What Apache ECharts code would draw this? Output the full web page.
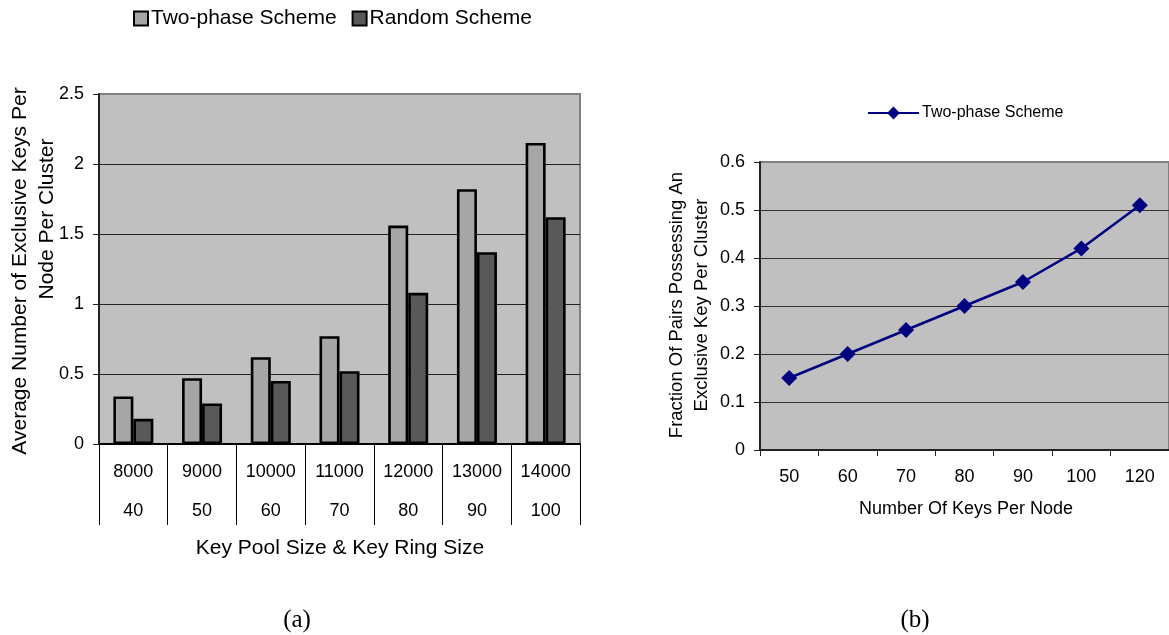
<!DOCTYPE html>
<html>
<head>
<meta charset="utf-8">
<script src="https://cdn.jsdelivr.net/npm/echarts@6/dist/echarts.min.js"></script>
<style>
  html, body { margin: 0; padding: 0; background: #fff; }
  .pane { position: absolute; left: 0; top: 0; width: 1169px; height: 635px; }
</style>
</head>
<body>
<div id="chartA" class="pane"></div>
<div id="chartB" class="pane"></div>
<script>
// (a) exclusive keys per node per cluster, by key pool / key ring size
const poolSizes = ['8000', '9000', '10000', '11000', '12000', '13000', '14000'];
const ringSizes = ['40', '50', '60', '70', '80', '90', '100'];
const twoPhaseKeys = [0.34, 0.47, 0.62, 0.77, 1.56, 1.82, 2.15];
const randomKeys = [0.18, 0.29, 0.45, 0.52, 1.08, 1.37, 1.62];
const yTicksA = { min: 0, max: 2.5, step: 0.5 };

// (b) fraction of pairs possessing an exclusive key, by keys per node
const keysPerNode = ['50', '60', '70', '80', '90', '100', '120'];
const pairFraction = [0.15, 0.20, 0.25, 0.30, 0.35, 0.42, 0.51];
const yTicksB = { min: 0, max: 0.6, step: 0.1 };

const SANS = '"Liberation Sans", Arial, Helvetica, sans-serif';
const SERIF = '"Liberation Serif", "DejaVu Serif", serif';

function vText(text, x, y, size, rot) {
  return {
    type: 'text', x: x, y: y, rotation: rot || 0,
    style: {
      text: text, fill: '#000', font: size + 'px ' + SANS,
      textAlign: 'center', textVerticalAlign: 'middle'
    }
  };
}

const chartA = echarts.init(document.getElementById('chartA'), null, { renderer: 'canvas' });
chartA.setOption({
  animation: false,
  backgroundColor: 'transparent',
  legend: {
    left: 133, top: 8, padding: 0, icon: 'rect',
    itemWidth: 14, itemHeight: 14, itemGap: 15,
    textStyle: { fontFamily: SANS, fontSize: 21, color: '#000', padding: [0, 0, 0, -2] },
    itemStyle: { borderColor: '#000', borderWidth: 2 },
    data: ['Two-phase Scheme', 'Random Scheme']
  },
  grid: {
    left: 99, top: 94, width: 481, height: 350,
    show: true, backgroundColor: '#c0c0c0', borderColor: '#808080', borderWidth: 2
  },
  xAxis: {
    type: 'category', data: poolSizes, boundaryGap: true,
    axisLine: { lineStyle: { color: '#000', width: 2 } },
    axisTick: { show: true, interval: 0, length: 81, lineStyle: { color: '#000', width: 1 } },
    axisLabel: {
      interval: 0, margin: 9, fontFamily: SANS, fontSize: 18, color: '#000', lineHeight: 39,
      formatter: (v, i) => poolSizes[i] + '\n' + ringSizes[i]
    },
    splitLine: { show: false }
  },
  yAxis: {
    type: 'value', min: yTicksA.min, max: yTicksA.max, interval: yTicksA.step,
    axisLine: { show: true, lineStyle: { color: '#222', width: 2 } },
    axisTick: { show: true, length: 6, lineStyle: { color: '#222' } },
    axisLabel: { margin: 15, fontFamily: SANS, fontSize: 18, color: '#000' },
    splitLine: { show: true, showMaxLine: false, lineStyle: { color: '#222', width: 1 } }
  },
  series: [
    {
      name: 'Two-phase Scheme', type: 'bar', data: twoPhaseKeys,
      barWidth: 20, barGap: '0%',
      itemStyle: { color: '#a6a6a6', borderColor: '#000', borderWidth: 2.6 }
    },
    {
      name: 'Random Scheme', type: 'bar', data: randomKeys,
      barWidth: 20, barGap: '0%',
      itemStyle: { color: '#595959', borderColor: '#000', borderWidth: 2.6 }
    }
  ],
  graphic: [
    vText('Average Number of Exclusive Keys Per', 20, 271, 21, Math.PI / 2),
    vText('Node Per Cluster', 47, 219, 21, Math.PI / 2),
    vText('Key Pool Size & Key Ring Size', 340, 548, 21),
    {
      type: 'text', x: 297, y: 620,
      style: { text: '(a)', fill: '#000', font: '25px ' + SERIF, textAlign: 'center', textVerticalAlign: 'middle' }
    }
  ]
});

const chartB = echarts.init(document.getElementById('chartB'), null, { renderer: 'canvas' });
chartB.setOption({
  animation: false,
  backgroundColor: 'transparent',
  legend: {
    left: 867, top: 105, padding: 0,
    itemWidth: 51, itemHeight: 16,
    textStyle: { fontFamily: SANS, fontSize: 16, color: '#000', padding: [0, 0, 0, -2] },
    data: ['Two-phase Scheme']
  },
  grid: {
    left: 760, top: 162, width: 413, height: 288,
    show: true, backgroundColor: '#c0c0c0', borderColor: '#808080', borderWidth: 2
  },
  xAxis: {
    type: 'category', data: keysPerNode, boundaryGap: true,
    axisLine: { lineStyle: { color: '#222', width: 2 } },
    axisTick: { show: true, interval: 0, length: 6, lineStyle: { color: '#222' } },
    axisLabel: { interval: 0, margin: 18, fontFamily: SANS, fontSize: 18, color: '#000' },
    splitLine: { show: false }
  },
  yAxis: {
    type: 'value', min: yTicksB.min, max: yTicksB.max, interval: yTicksB.step,
    axisLine: { show: true, lineStyle: { color: '#222', width: 2 } },
    axisTick: { show: true, length: 6, lineStyle: { color: '#222' } },
    axisLabel: { margin: 15, fontFamily: SANS, fontSize: 18, color: '#000' },
    splitLine: { show: true, showMaxLine: false, lineStyle: { color: '#333', width: 1 } }
  },
  series: [
    {
      name: 'Two-phase Scheme', type: 'line', data: pairFraction,
      symbol: 'diamond', symbolSize: 16,
      lineStyle: { color: '#000080', width: 2.5 },
      itemStyle: { color: '#000080' }
    }
  ],
  graphic: [
    vText('Fraction Of Pairs Possessing An', 677, 305, 18.5, Math.PI / 2),
    vText('Exclusive Key Per Cluster', 702, 305, 18.5, Math.PI / 2),
    vText('Number Of Keys Per Node', 966, 509, 18),
    {
      type: 'text', x: 915, y: 620,
      style: { text: '(b)', fill: '#000', font: '25px ' + SERIF, textAlign: 'center', textVerticalAlign: 'middle' }
    }
  ]
});
</script>
</body>
</html>
